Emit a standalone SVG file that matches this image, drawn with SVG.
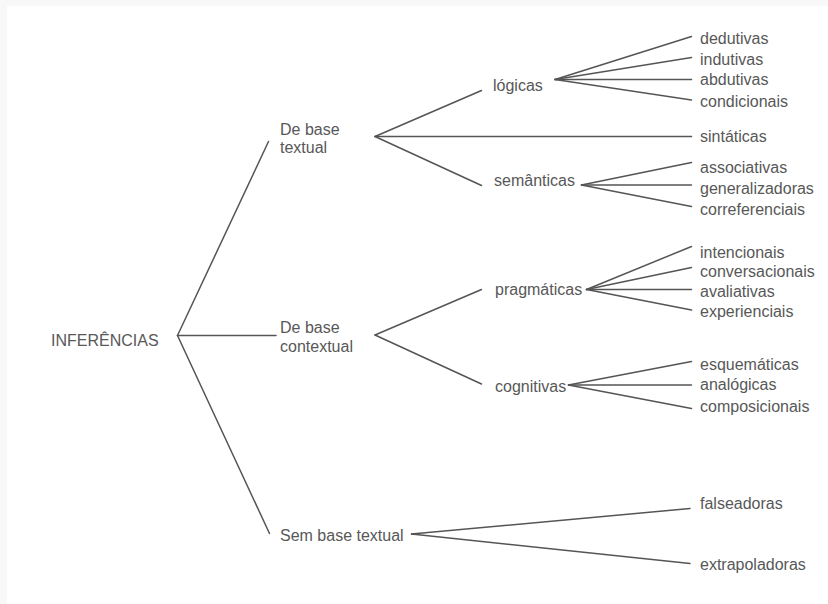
<svg xmlns="http://www.w3.org/2000/svg" width="828" height="604" viewBox="0 0 828 604">
<style>
  text { font-family: "Liberation Sans", Arial, sans-serif; font-size: 16px; fill: #585858; }
  .c line { stroke: #555555; stroke-width: 1.5; stroke-linecap: round; }
</style>
<rect x="0" y="0" width="828" height="604" fill="#f8f8f8"/>
<rect x="7" y="6" width="821" height="598" fill="#ffffff"/>

<g id="connectors" class="c">
  <!-- root -->
  <line x1="177.5" y1="335.5" x2="268.5" y2="141.5"/>
  <line x1="177.5" y1="335.5" x2="276" y2="335.5"/>
  <line x1="177.5" y1="335.5" x2="269.5" y2="533.5"/>
  <!-- de base textual -->
  <line x1="375" y1="136.5" x2="481.5" y2="90.5"/>
  <line x1="375" y1="136.5" x2="691.5" y2="136.5"/>
  <line x1="375" y1="136.5" x2="481.5" y2="185.5"/>
  <!-- logicas -->
  <line x1="555" y1="79.5" x2="691.5" y2="36.5"/>
  <line x1="555" y1="79.5" x2="691.5" y2="57.5"/>
  <line x1="555" y1="79.5" x2="691.5" y2="79.5"/>
  <line x1="555" y1="79.5" x2="691.5" y2="100"/>
  <!-- semanticas -->
  <line x1="581.5" y1="185" x2="691.5" y2="162.5"/>
  <line x1="581.5" y1="185" x2="691.5" y2="185"/>
  <line x1="581.5" y1="185" x2="691.5" y2="206.5"/>
  <!-- de base contextual -->
  <line x1="375" y1="335" x2="481.5" y2="289.5"/>
  <line x1="375" y1="335" x2="481.5" y2="384"/>
  <!-- pragmaticas -->
  <line x1="586.5" y1="289.5" x2="691.5" y2="246.5"/>
  <line x1="586.5" y1="289.5" x2="691.5" y2="267.5"/>
  <line x1="586.5" y1="289.5" x2="691.5" y2="289.5"/>
  <line x1="586.5" y1="289.5" x2="691.5" y2="310"/>
  <!-- cognitivas -->
  <line x1="568.5" y1="385" x2="691.5" y2="361.5"/>
  <line x1="568.5" y1="385" x2="691.5" y2="385"/>
  <line x1="568.5" y1="385" x2="691.5" y2="408.5"/>
  <!-- sem base textual -->
  <line x1="411.5" y1="534" x2="690" y2="508.5"/>
  <line x1="411.5" y1="534" x2="690" y2="563.5"/>
</g>

<g id="inferencias"><text x="51" y="345.5">INFERÊNCIAS</text></g>
<g id="de-base-textual"><text x="280" y="134.5">De base</text><text x="280" y="153">textual</text></g>
<g id="de-base-contextual"><text x="280" y="332.5">De base</text><text x="280" y="351.5">contextual</text></g>
<g id="sem-base-textual"><text x="280" y="540.5">Sem base textual</text></g>

<g id="logicas"><text x="493" y="90.5">lógicas</text></g>
<g id="semanticas"><text x="494" y="185.5">semânticas</text></g>
<g id="pragmaticas"><text x="495" y="295">pragmáticas</text></g>
<g id="cognitivas"><text x="495" y="391.5">cognitivas</text></g>

<g id="dedutivas"><text x="700" y="44">dedutivas</text></g>
<g id="indutivas"><text x="700" y="65">indutivas</text></g>
<g id="abdutivas"><text x="700" y="85">abdutivas</text></g>
<g id="condicionais"><text x="700" y="107">condicionais</text></g>
<g id="sintaticas"><text x="700" y="142">sintáticas</text></g>
<g id="associativas"><text x="700" y="173">associativas</text></g>
<g id="generalizadoras"><text x="700" y="194">generalizadoras</text></g>
<g id="correferenciais"><text x="700" y="215">correferenciais</text></g>
<g id="intencionais"><text x="700" y="258">intencionais</text></g>
<g id="conversacionais"><text x="700" y="277">conversacionais</text></g>
<g id="avaliativas"><text x="700" y="297">avaliativas</text></g>
<g id="experienciais"><text x="700" y="317">experienciais</text></g>
<g id="esquematicas"><text x="700" y="370">esquemáticas</text></g>
<g id="analogicas"><text x="700" y="390">analógicas</text></g>
<g id="composicionais"><text x="700" y="412">composicionais</text></g>
<g id="falseadoras"><text x="700" y="508.5">falseadoras</text></g>
<g id="extrapoladoras"><text x="700" y="570">extrapoladoras</text></g>
</svg>
